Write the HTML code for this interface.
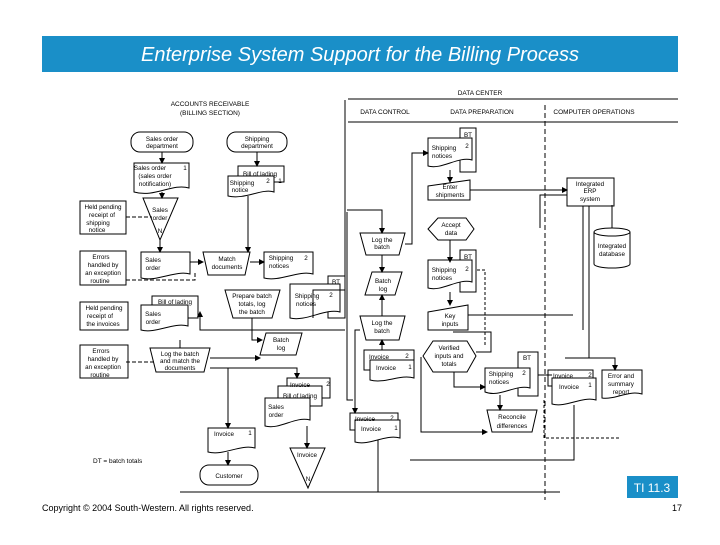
<!DOCTYPE html>
<html><head><meta charset="utf-8"><style>
body{margin:0;background:#fff;width:720px;height:540px;overflow:hidden;font-family:"Liberation Sans",sans-serif}
</style></head><body>
<svg width="720" height="540" viewBox="0 0 720 540" xmlns="http://www.w3.org/2000/svg" font-family="Liberation Sans, sans-serif">
<defs><marker id="a" markerWidth="6" markerHeight="6" refX="5" refY="3" orient="auto"><path d="M0,0 L6,3 L0,6z" fill="#000"/></marker></defs>
<rect x="42" y="36" width="636" height="36" fill="#1a8fc8"/>
<text x="360" y="61" text-anchor="middle" fill="#fff" font-size="20" font-style="italic">Enterprise System Support for the Billing Process</text>

<g font-size="6.5" fill="#000" stroke="none">
<text x="210" y="106" text-anchor="middle">ACCOUNTS RECEIVABLE</text>
<text x="210" y="115" text-anchor="middle">(BILLING SECTION)</text>
<text x="480" y="95" text-anchor="middle">DATA CENTER</text>
<text x="385" y="114" text-anchor="middle">DATA CONTROL</text>
<text x="482" y="114" text-anchor="middle">DATA PREPARATION</text>
<text x="594" y="114" text-anchor="middle">COMPUTER OPERATIONS</text>
<text x="93" y="463">DT = batch totals</text>
</g>
<g stroke="#000" fill="none" stroke-width="1">
<line x1="348" y1="99" x2="678" y2="99"/>
<line x1="348" y1="122" x2="678" y2="122"/>
<line x1="545" y1="105" x2="545" y2="500" stroke-dasharray="5,3"/>
<line x1="180" y1="492" x2="560" y2="492"/>
</g>

<g stroke="#000" fill="#fff" stroke-width="1" font-size="6.5">
<!-- terminals -->
<rect x="131" y="132" width="62" height="20" rx="9"/>
<rect x="227" y="132" width="60" height="20" rx="9"/>
<rect x="200" y="465" width="58" height="20" rx="9"/>
<!-- docs AR -->
<path d="M134,163H189V188C172,183 155,198 134,192Z"/>
<path d="M238,166H284V182H238Z"/>
<path d="M228,176H274V192C262,188 245,200 228,196Z"/>
<rect x="80" y="201" width="46" height="33"/>
<path d="M143,198H178L160,240Z"/>
<rect x="80" y="251" width="46" height="34"/>
<path d="M141,252H190V274C175,270 158,282 141,278Z"/>
<path d="M203,252H250L245,275H208Z"/>
<path d="M264,252H313V274C298,270 280,282 264,278Z"/>
<path d="M225,290H280L272,318H233Z"/>
<path d="M328,276H345V318H328Z"/>
<path d="M290,284H340V312C325,308 306,322 290,318Z"/>
<rect x="80" y="302" width="48" height="28"/>
<path d="M152,296H198V318H152Z"/>
<path d="M141,305H188V326C173,322 156,334 141,330Z"/>
<path d="M266,333H302L296,355H260Z"/>
<rect x="80" y="345" width="48" height="33"/>
<path d="M150,348H210L204,372H156Z"/>
<path d="M287,378H330V398H287Z"/>
<path d="M278,386H322V406H278Z"/>
<path d="M265,398H310V420C295,416 280,430 265,426Z"/>
<path d="M208,428H255V448C240,444 224,456 208,452Z"/>
<path d="M290,448H325L308,488Z"/>
<!-- data control -->
<path d="M360,233H405L399,255H366Z"/>
<path d="M372,272H402L395,295H365Z"/>
<path d="M360,316H405L399,340H366Z"/>
<path d="M364,350H414V370H364Z"/>
<path d="M370,360H414V378C400,374 385,384 370,380Z"/>
<path d="M350,413H398V430H350Z"/>
<path d="M355,420H400V438C385,434 370,446 355,442Z"/>
<!-- data prep -->
<path d="M460,128H476V172H460Z"/>
<path d="M428,138H472V160C458,156 442,170 428,166Z"/>
<path d="M428,186L470,180V200H428Z"/>
<path d="M438,218H466L474,229L466,240H438L428,229Z"/>
<path d="M460,250H476V292H460Z"/>
<path d="M428,260H472V282C458,278 442,292 428,288Z"/>
<path d="M428,312L468,305V330H428Z"/>
<path d="M433,341H467L476,356L467,372H433L423,356Z"/>
<path d="M518,352H538V396H518Z"/>
<path d="M485,368H530V388C515,384 500,398 485,392Z"/>
<path d="M487,410H537L532,432H492Z"/>
<!-- computer ops -->
<rect x="567" y="178" width="47" height="28"/>
<path d="M594,232A18,4 0 0 1 630,232V264A18,4 0 0 1 594,264Z"/>
<path d="M594,232A18,4 0 0 0 630,232"/>
<path d="M548,370H593V386H548Z"/>
<path d="M552,378H596V400C582,396 566,408 552,404Z"/>
<path d="M602,370H642V394C628,390 615,400 602,398Z"/>
</g>

<g font-size="6.3" fill="#000" text-anchor="middle">
<text x="162" y="141">Sales order</text><text x="162" y="148">department</text>
<text x="257" y="141">Shipping</text><text x="257" y="148">department</text>
<text x="229" y="478">Customer</text>
<text x="150" y="170">Sales order</text><text x="155" y="178">(sales order</text><text x="155" y="186">notification)</text><text x="185" y="170">1</text>
<text x="260" y="176">Bill of lading</text><text x="242" y="185">Shipping</text><text x="240" y="192">notice</text><text x="268" y="183">2</text><text x="280" y="183">1</text>
<text x="103" y="209">Held pending</text><text x="102" y="217">receipt of</text><text x="98" y="225">shipping</text><text x="97" y="232">notice</text>
<text x="160" y="212">Sales</text><text x="160" y="220">order</text><text x="160" y="233">N</text>
<text x="101" y="259">Errors</text><text x="103" y="267">handled by</text><text x="103" y="275">an exception</text><text x="100" y="283">routine</text>
<text x="153" y="262">Sales</text><text x="153" y="270">order</text>
<text x="227" y="261">Match</text><text x="227" y="269">documents</text>
<text x="281" y="260">Shipping</text><text x="279" y="268">notices</text><text x="306" y="260">2</text>
<text x="252" y="298">Prepare batch</text><text x="252" y="306">totals, log</text><text x="252" y="314">the batch</text>
<text x="336" y="284">BT</text><text x="307" y="298">Shipping</text><text x="306" y="306">notices</text><text x="331" y="297">2</text>
<text x="104" y="310">Held pending</text><text x="100" y="318">receipt of</text><text x="103" y="326">the invoices</text>
<text x="175" y="304">Bill of lading</text><text x="153" y="316">Sales</text><text x="153" y="324">order</text>
<text x="281" y="342">Batch</text><text x="281" y="350">log</text>
<text x="101" y="353">Errors</text><text x="103" y="361">handled by</text><text x="103" y="369">an exception</text><text x="100" y="377">routine</text>
<text x="180" y="356">Log the batch</text><text x="180" y="363">and match the</text><text x="180" y="370">documents</text>
<text x="300" y="387">Invoice</text><text x="328" y="386">2</text><text x="300" y="398">Bill of lading</text>
<text x="276" y="409">Sales</text><text x="276" y="417">order</text>
<text x="224" y="436">Invoice</text><text x="250" y="435">1</text>
<text x="307" y="457">Invoice</text><text x="308" y="481">N</text>
<text x="382" y="242">Log the</text><text x="382" y="249">batch</text>
<text x="383" y="283">Batch</text><text x="383" y="291">log</text>
<text x="382" y="325">Log the</text><text x="382" y="333">batch</text>
<text x="379" y="359">Invoice</text><text x="407" y="358">2</text><text x="386" y="370">Invoice</text><text x="410" y="369">1</text>
<text x="365" y="421">Invoice</text><text x="392" y="420">2</text><text x="371" y="431">Invoice</text><text x="396" y="430">1</text>
<text x="468" y="137">BT</text><text x="444" y="150">Shipping</text><text x="442" y="158">notices</text><text x="467" y="148">2</text>
<text x="450" y="189">Enter</text><text x="450" y="197">shipments</text>
<text x="451" y="227">Accept</text><text x="451" y="235">data</text>
<text x="468" y="259">BT</text><text x="444" y="272">Shipping</text><text x="442" y="280">notices</text><text x="467" y="271">2</text>
<text x="450" y="318">Key</text><text x="450" y="326">inputs</text>
<text x="449" y="350">Verified</text><text x="449" y="358">inputs and</text><text x="449" y="366">totals</text>
<text x="527" y="360">BT</text><text x="501" y="376">Shipping</text><text x="499" y="384">notices</text><text x="524" y="375">2</text>
<text x="512" y="419">Reconcile</text><text x="512" y="428">differences</text>
<text x="590" y="186">Integrated</text><text x="590" y="193">ERP</text><text x="590" y="201">system</text>
<text x="612" y="248">Integrated</text><text x="612" y="256">database</text>
<text x="563" y="378">Invoice</text><text x="590" y="377">2</text><text x="569" y="389">Invoice</text><text x="590" y="387">1</text>
<text x="621" y="378">Error and</text><text x="621" y="386">summary</text><text x="621" y="394">report</text>
</g>

<g stroke="#000" fill="none" stroke-width="1">
<line x1="162" y1="152" x2="162" y2="163" marker-end="url(#a)"/>
<line x1="257" y1="152" x2="257" y2="166" marker-end="url(#a)"/>
<line x1="162" y1="192" x2="162" y2="198" marker-end="url(#a)"/>
<line x1="160" y1="240" x2="160" y2="252" marker-end="url(#a)"/>
<line x1="248" y1="196" x2="248" y2="252" marker-end="url(#a)"/>
<line x1="190" y1="262" x2="203" y2="262" marker-end="url(#a)"/>
<line x1="250" y1="262" x2="264" y2="262" marker-end="url(#a)"/>
<line x1="126" y1="217" x2="152" y2="217" stroke-dasharray="4,2"/>
<line x1="126" y1="362" x2="155" y2="362" stroke-dasharray="4,2"/>
<polyline points="126,280 195,280 195,272" stroke-dasharray="4,2"/>
<polyline points="345,210 345,290 313,290 313,318"/>
<polyline points="345,330 200,330 200,312" marker-end="url(#a)"/>
<polyline points="252,318 252,340 262,340" marker-end="url(#a)"/>
<line x1="210" y1="358" x2="260" y2="358" marker-end="url(#a)"/>
<polyline points="210,368 297,368 297,378" marker-end="url(#a)"/>
<line x1="228" y1="368" x2="228" y2="428" marker-end="url(#a)"/>
<line x1="228" y1="452" x2="228" y2="465" marker-end="url(#a)"/>
<line x1="307" y1="426" x2="307" y2="448" marker-end="url(#a)"/>
<line x1="180" y1="340" x2="180" y2="348"/>
<polyline points="345,210 345,100"/>
<polyline points="347,212 347,400 353,400"/>
<polyline points="347,210 382,210 382,233" marker-end="url(#a)"/>
<polyline points="405,244 412,244 412,153 428,153" marker-end="url(#a)"/>
<line x1="382" y1="255" x2="382" y2="272" marker-end="url(#a)"/>
<line x1="382" y1="316" x2="382" y2="295" marker-end="url(#a)"/>
<line x1="382" y1="350" x2="382" y2="340" marker-end="url(#a)"/>
<polyline points="360,330 355,330 355,413" marker-end="url(#a)"/>
<line x1="450" y1="170" x2="450" y2="182" marker-end="url(#a)"/>
<line x1="470" y1="190" x2="567" y2="190" marker-end="url(#a)"/>
<line x1="450" y1="240" x2="450" y2="262" marker-end="url(#a)"/>
<line x1="450" y1="292" x2="450" y2="305" marker-end="url(#a)"/>
<line x1="468" y1="315" x2="573" y2="315"/>
<polyline points="540,228 540,195 567,195"/>
<polyline points="453,332 491,332 491,352 476,352"/>
<polyline points="485,345 485,270 476,270" stroke-dasharray="3,2"/>
<polyline points="454,372 454,387 485,387" marker-end="url(#a)"/>
<line x1="500" y1="395" x2="500" y2="410" marker-end="url(#a)"/>
<polyline points="421,357 421,432 487,432" marker-end="url(#a)"/>
<line x1="612" y1="205" x2="612" y2="228"/>
<line x1="589" y1="206" x2="589" y2="358"/>
<line x1="583" y1="206" x2="583" y2="330"/>
<polyline points="565,358 615,358 615,370" marker-end="url(#a)"/>
<line x1="538" y1="375" x2="552" y2="375"/>
<polyline points="574,405 574,460 410,460"/>
<polyline points="378,440 378,492"/>
<polyline points="544,400 544,438 620,438" stroke-dasharray="3,2"/>
</g>

<rect x="627" y="476" width="51" height="22" fill="#1a8fc8"/>
<text x="652" y="492" text-anchor="middle" fill="#fff" font-size="12">TI 11.3</text>
<text x="42" y="511" font-size="9">Copyright © 2004 South-Western. All rights reserved.</text>
<text x="672" y="511" font-size="9">17</text>
</svg>
</body></html>
